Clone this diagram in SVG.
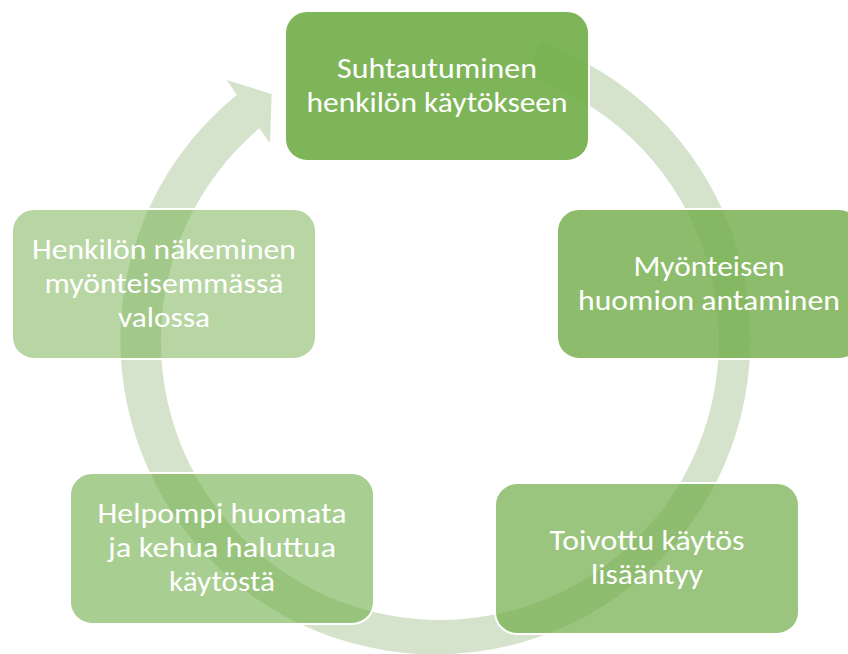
<svg xmlns="http://www.w3.org/2000/svg" width="848" height="654" viewBox="0 0 848 654">
  <style>
    .box { fill: #70AD47; stroke: #FFFFFF; stroke-width: 2; }
    .lbl { font-family: Carlito, Lato, "Liberation Sans", sans-serif; font-size: 29px; fill: #FFFFFF; text-anchor: middle; }
  </style>
  <rect width="848" height="654" fill="#FFFFFF"/>
  <g id="connectors">
    <path d="M 236.7 95 L 226.7 80 L 271.7 94 L 270 143.3 L 259.3 128.3 A 279 279 0 1 0 527.8 76.2 L 539.6 42.2 A 315 315 0 1 1 236.7 95 Z" fill="#D5E3CC"/>
  </g>
  <g id="node1">
    <rect class="box" x="285" y="11" width="304" height="150" rx="22" fill-opacity="0.9"/>
    <text class="lbl" x="437" y="78" textLength="200" lengthAdjust="spacingAndGlyphs">Suhtautuminen</text>
    <text class="lbl" x="437" y="112" textLength="261" lengthAdjust="spacingAndGlyphs">henkilön käytökseen</text>
  </g>
  <g id="node2">
    <rect class="box" x="557" y="209" width="304" height="150" rx="22" fill-opacity="0.8"/>
    <text class="lbl" x="709" y="276" textLength="151" lengthAdjust="spacingAndGlyphs">Myönteisen</text>
    <text class="lbl" x="709" y="310" textLength="262" lengthAdjust="spacingAndGlyphs">huomion antaminen</text>
  </g>
  <g id="node3">
    <rect class="box" x="495" y="483" width="304" height="151" rx="22" fill-opacity="0.7"/>
    <text class="lbl" x="647" y="550" textLength="195" lengthAdjust="spacingAndGlyphs">Toivottu käytös</text>
    <text class="lbl" x="647" y="584" textLength="112" lengthAdjust="spacingAndGlyphs">lisääntyy</text>
  </g>
  <g id="node4">
    <rect class="box" x="70" y="473" width="304" height="151" rx="22" fill-opacity="0.6"/>
    <text class="lbl" x="222" y="523" textLength="249" lengthAdjust="spacingAndGlyphs">Helpompi huomata</text>
    <text class="lbl" x="222" y="557" textLength="228" lengthAdjust="spacingAndGlyphs">ja kehua haluttua</text>
    <text class="lbl" x="222" y="591" textLength="106" lengthAdjust="spacingAndGlyphs">käytöstä</text>
  </g>
  <g id="node5">
    <rect class="box" x="12" y="209" width="304" height="150" rx="22" fill-opacity="0.5"/>
    <text class="lbl" x="164" y="259" textLength="264" lengthAdjust="spacingAndGlyphs">Henkilön näkeminen</text>
    <text class="lbl" x="164" y="293" textLength="239" lengthAdjust="spacingAndGlyphs">myönteisemmässä</text>
    <text class="lbl" x="164" y="327" textLength="92" lengthAdjust="spacingAndGlyphs">valossa</text>
  </g>
</svg>
